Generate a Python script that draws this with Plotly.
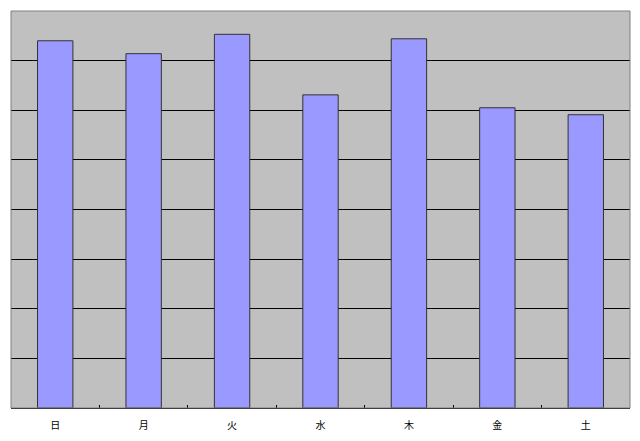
import plotly.graph_objects as go

days = ["日", "月", "火", "水", "木", "金", "土"]
values = [740, 714, 753, 631, 744, 605, 591]

fig = go.Figure()
fig.add_trace(go.Bar(
    x=days, y=values, width=0.4,
    marker=dict(color="#9999FF", line=dict(color="#333333", width=1)),
))
fig.update_layout(
    width=640, height=441,
    margin=dict(l=11, r=10, t=11, b=33),
    paper_bgcolor="white", plot_bgcolor="#C0C0C0",
    showlegend=False,
    font=dict(family="Noto Sans CJK JP", size=10, color="black"),
    shapes=[dict(type="rect", xref="paper", yref="paper", x0=0, y0=0, x1=1, y1=1,
                 line=dict(color="#808080", width=1), layer="above")],
)
fig.update_xaxes(showgrid=False, showline=True, linecolor="black", linewidth=1,
                 ticks="inside", tickson="boundaries", ticklen=3, tickcolor="black",
                 ticklabelstandoff=8, zeroline=False)
fig.update_yaxes(range=[0, 800], dtick=100, showgrid=True, gridcolor="black", gridwidth=1,
                 showticklabels=False, zeroline=False, showline=False)
fig.write_html("out.html", config={"displayModeBar": False},
               post_script="document.body.style.margin='0px';document.body.style.overflow='hidden';")
